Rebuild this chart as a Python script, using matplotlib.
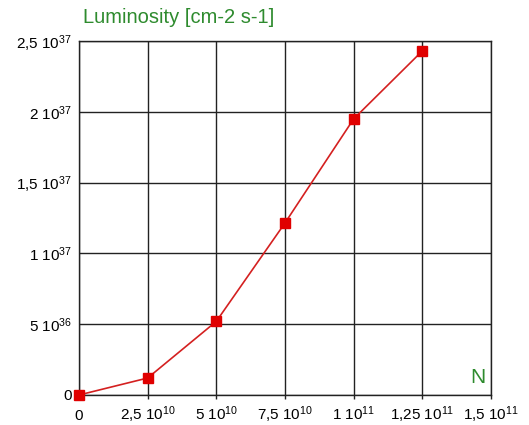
import matplotlib.pyplot as plt

plt.rcParams['font.family'] = ['Liberation Sans', 'DejaVu Sans']
plt.rcParams['mathtext.fontset'] = 'custom'
plt.rcParams['mathtext.rm'] = 'Liberation Sans'
plt.rcParams['mathtext.default'] = 'regular'

# data
n_particles = [0, 2.5e10, 5e10, 7.5e10, 1e11, 1.25e11]
luminosity = [0, 1.2e36, 5.2e36, 1.215e37, 1.95e37, 2.43e37]

x_ticks = [0, 2.5e10, 5e10, 7.5e10, 1e11, 1.25e11, 1.5e11]
x_labels = ['0', '2,5 10$^{10}$', '5 10$^{10}$', '7,5 10$^{10}$',
            '1 10$^{11}$', '1,25 10$^{11}$', '1,5 10$^{11}$']
y_ticks = [0, 5e36, 1e37, 1.5e37, 2e37, 2.5e37]
y_labels = ['0', '5 10$^{36}$', '1 10$^{37}$', '1,5 10$^{37}$',
            '2 10$^{37}$', '2,5 10$^{37}$']

green = '#2e8b2e'

fig = plt.figure(figsize=(5.29, 4.25), dpi=100)
ax = fig.add_axes([0.1493, 0.0706, 0.7789, 0.8329])

ax.plot(n_particles, luminosity, color='#d42020', lw=1.2,
        marker='s', markersize=7, markerfacecolor='#e00000',
        markeredgecolor='#e00000', zorder=3, clip_on=False)

ax.set_xlim(0, 1.5e11)
ax.set_ylim(0, 2.5e37)
ax.set_xticks(x_ticks)
ax.set_xticklabels(x_labels, fontsize=11)
ax.set_yticks(y_ticks)
ax.set_yticklabels(y_labels, fontsize=11)
for lbl in ax.get_xticklabels():
    lbl.set_va('baseline')
ax.tick_params(axis='x', length=3, width=1, color='#222222', pad=15)
ax.tick_params(axis='y', length=0, pad=5)
ax.grid(True, color='#222222', lw=1)
for s in ax.spines.values():
    s.set_color('#222222')
    s.set_linewidth(1)

fig.text(0.157, 0.958, 'Luminosity [cm-2 s-1]', color=green, fontsize=14.5,
         va='center', ha='left')
ax.text(0.967, 0.05, 'N', color=green, fontsize=15, transform=ax.transAxes,
        ha='center', va='center')

fig.savefig('out.png', dpi=100, facecolor='white')
